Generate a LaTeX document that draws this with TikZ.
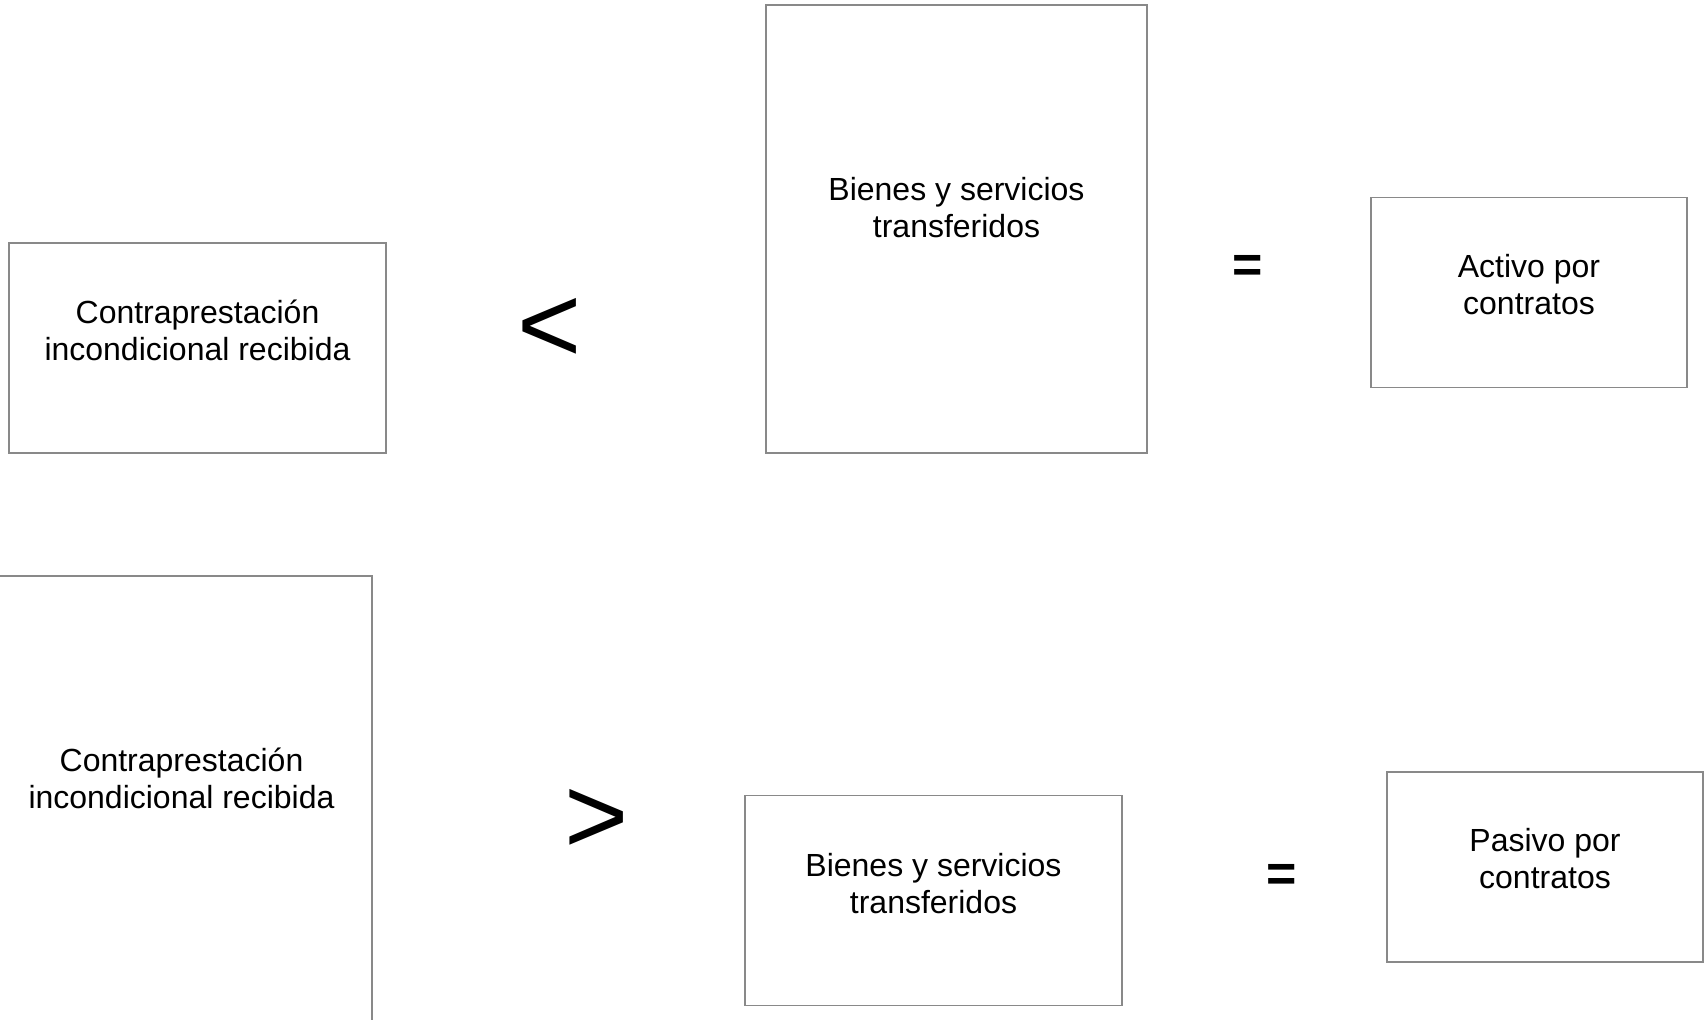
\documentclass[tikz,border=0pt]{standalone}
\usepackage{fontspec}
\setmainfont{Liberation Sans}
\definecolor{bordercolor}{RGB}{137,137,137}
\begin{document}
\begin{tikzpicture}[x=0.5pt,y=-0.5pt,
  box/.style={draw=bordercolor,line width=0.7pt,inner sep=0pt},
  txt/.style={font=\fontsize{16}{18.5}\selectfont,align=center,anchor=base,inner sep=0pt},
  sym/.style={anchor=base,inner sep=0pt}]
\pgfmathsetlengthmacro\px{0.5pt};
\useasboundingbox (0,0) rectangle (1705,1020);
\clip (0,0) rectangle (1705,1020);
\node[box,minimum width=377*\px,minimum height=210*\px] (c1) at (197.5,348){};
\node[box,minimum width=381*\px,minimum height=448*\px] (b1) at (956.5,229){};
\node[box,minimum width=316*\px,minimum height=190*\px] (r1) at (1529,292.5){};
\node[box,minimum width=381*\px,minimum height=448*\px] (c2) at (181.5,800){};
\node[box,minimum width=377*\px,minimum height=210*\px] (b2) at (933.5,900.5){};
\node[box,minimum width=316*\px,minimum height=190*\px] (r2) at (1545,867){};
\node[txt] (tc1) at ([yshift=-13*\px]c1.center){Contraprestación\\incondicional recibida};
\node[txt] (tb1) at ([yshift=-8.5*\px]b1.center){Bienes y servicios\\transferidos};
\node[txt] (tr1) at ([yshift=-22*\px]r1.center){Activo por\\contratos};
\node[txt] (tc2) at ([yshift=-8.5*\px]c2.center){Contraprestación\\incondicional recibida};
\node[txt] (tb2) at ([yshift=-13*\px]b2.center){Bienes y servicios\\transferidos};
\node[txt] (tr2) at ([yshift=-22*\px]r2.center){Pasivo por\\contratos};
\node[sym,font=\fontsize{55}{60}\selectfont] (lt) at (549.5,362.5){<};
\node[sym,font=\fontsize{55}{60}\selectfont] (gt) at (596.5,853.5){>};
\node[sym,font=\fontsize{26}{30}\selectfont\bfseries] (eq1) at (1247.5,283){=};
\node[sym,font=\fontsize{26}{30}\selectfont\bfseries] (eq2) at (1281.5,892){=};
\end{tikzpicture}
\end{document}
